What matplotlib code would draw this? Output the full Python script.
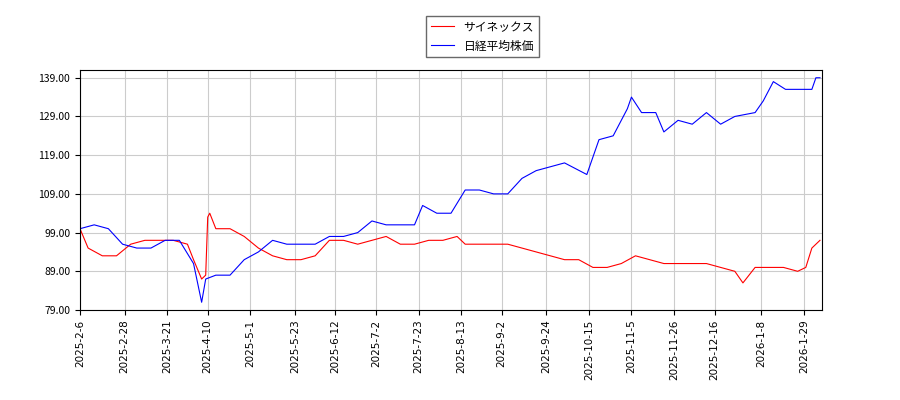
import matplotlib
matplotlib.use("Agg")
import matplotlib.pyplot as plt
import pandas as pd

plt.rcParams['font.family'] = ['Noto Sans CJK JP', 'DejaVu Sans']

nk_dates = ["2025-02-06","2025-02-13","2025-02-20","2025-02-27","2025-03-06","2025-03-13","2025-03-20","2025-03-27",
            "2025-04-03","2025-04-07","2025-04-09","2025-04-14","2025-04-21","2025-04-28","2025-05-05","2025-05-12",
            "2025-05-19","2025-05-26","2025-06-02","2025-06-09","2025-06-16","2025-06-23","2025-06-30","2025-07-07",
            "2025-07-14","2025-07-21","2025-07-25","2025-08-01","2025-08-08","2025-08-15","2025-08-22","2025-08-29",
            "2025-09-05","2025-09-12","2025-09-19","2025-09-26","2025-10-03","2025-10-14","2025-10-20","2025-10-27",
            "2025-11-03","2025-11-05","2025-11-10","2025-11-17","2025-11-21","2025-11-28","2025-12-05","2025-12-12",
            "2025-12-19","2025-12-26","2026-01-05","2026-01-09","2026-01-14","2026-01-20","2026-01-27","2026-02-02",
            "2026-02-04","2026-02-06"]
nk_vals = [100,101,100,96,95,95,97,97,91,81,87,88,88,92,94,97,96,96,96,98,98,99,102,101,101,101,106,104,104,110,
           110,109,109,113,115,116,117,114,123,124,131,134,130,130,125,128,127,130,127,129,130,133,138,136,136,136,139,139]

sx_dates = ["2025-02-06","2025-02-10","2025-02-17","2025-02-24","2025-03-03","2025-03-10","2025-03-17","2025-03-24",
            "2025-03-31","2025-04-03","2025-04-07","2025-04-09","2025-04-10","2025-04-11","2025-04-14","2025-04-21",
            "2025-04-28","2025-05-05","2025-05-12","2025-05-19","2025-05-26","2025-06-02","2025-06-09","2025-06-16",
            "2025-06-23","2025-06-30","2025-07-07","2025-07-14","2025-07-21","2025-07-28","2025-08-04","2025-08-11",
            "2025-08-15","2025-08-22","2025-08-29","2025-09-05","2025-09-12","2025-09-19","2025-09-26","2025-10-03",
            "2025-10-10","2025-10-17","2025-10-24","2025-10-31","2025-11-07","2025-11-14","2025-11-21","2025-11-28",
            "2025-12-05","2025-12-12","2025-12-19","2025-12-26","2025-12-30","2026-01-05","2026-01-12","2026-01-19",
            "2026-01-26","2026-01-30","2026-02-02","2026-02-06"]
sx_vals = [100,95,93,93,96,97,97,97,96,92,87,88,103,104,100,100,98,95,93,92,92,93,97,97,96,97,98,96,96,97,97,98,
           96,96,96,96,95,94,93,92,92,90,90,91,93,92,91,91,91,91,90,89,86,90,90,90,89,90,95,97]

tick_dates = ["2025-02-06","2025-02-28","2025-03-21","2025-04-10","2025-05-01","2025-05-23","2025-06-12","2025-07-02",
              "2025-07-23","2025-08-13","2025-09-02","2025-09-24","2025-10-15","2025-11-05","2025-11-26","2025-12-16",
              "2026-01-08","2026-01-29"]

fig = plt.figure(figsize=(9, 4), dpi=100)
ax = fig.add_axes([80/900, 90/400, 742/900, 240/400])
ax.plot(pd.to_datetime(sx_dates), sx_vals, color='red', lw=0.8, label='サイネックス')
ax.plot(pd.to_datetime(nk_dates), nk_vals, color='blue', lw=0.8, label='日経平均株価')
ax.set_ylim(79, 141)
ax.set_yticks([79, 89, 99, 109, 119, 129, 139])
ax.yaxis.set_major_formatter(matplotlib.ticker.FormatStrFormatter('%.2f'))
ticks = pd.to_datetime(tick_dates)
ax.set_xticks(ticks)
ax.set_xticklabels([f"{d.year}-{d.month}-{d.day}" for d in ticks], rotation=90, family='DejaVu Sans')
ax.set_xlim(pd.Timestamp("2025-02-06"), pd.Timestamp("2026-02-07"))
ax.tick_params(labelsize=7.5)
ax.grid(True, color='#cccccc', lw=0.8)
fig.legend(loc='upper center', bbox_to_anchor=(0.536, 0.975), fontsize=8.5, fancybox=False, edgecolor='#444444')
fig.savefig("out.png")
